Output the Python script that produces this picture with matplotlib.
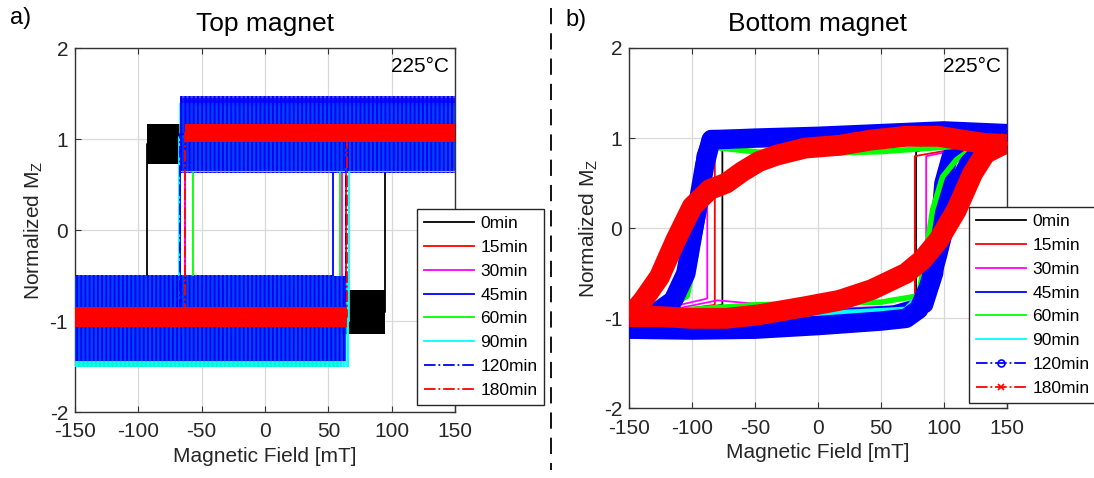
import numpy as np
import matplotlib.pyplot as plt
from matplotlib.lines import Line2D

plt.rcParams['font.family'] = ['Liberation Sans', 'DejaVu Sans']
plt.rcParams['axes.unicode_minus'] = False
plt.rcParams['hatch.linewidth'] = 1.4

labels = ['0min', '15min', '30min', '45min', '60min', '90min', '120min', '180min']
colors = ['black', 'red', 'magenta', 'blue', 'lime', 'cyan', 'blue', 'red']
linestyles = ['-', '-', '-', '-', '-', '-', '-.', '-.']

field_min, field_max = -150, 150

# top magnet: square loops (switching fields, plateau levels, noise half-width)
top_hc_neg = [-93, -63, -63, -67, -57, -68, -67, -63]
top_hc_pos = [95, 64, 61, 54, 59, 66, 64, 65]
top_up = [0.95, 1.03, 1.05, 1.05, 1.0, 1.02, 1.05, 1.07]
top_dn = [-0.9, -0.97, -1.0, -0.97, -1.0, -1.0, -0.97, -0.96]
top_up_spread = [0.22, 0.12, 0.38, 0.42, 0.36, 0.38, 0.4, 0.1]
top_dn_spread = [0.24, 0.12, 0.5, 0.48, 0.5, 0.5, 0.47, 0.11]

# bottom magnet: descending branch (from +150) and ascending branch (from -150)
bot_desc_field = [
    [150, 60, 0, -60, -76, -76, -100, -150],
    [150, 0, -82, -82, -150],
    [150, 0, -88, -88, -150],
    [150, 50, 0, -85, -90, -95, -102, -110, -120, -150],
    [150, 50, -30, -85, -92, -97, -104, -120, -150],
    [150, 0, -85, -90, -96, -103, -115, -150],
    [150, 100, 50, 0, -50, -85, -90, -95, -100, -105, -115, -130, -150],
    [150, 133, 123, 96, 70, 43, 17, -10, -33, -47, -60, -73, -86, -100, -113, -126, -139, -150],
]
bot_desc_mz = [
    [1.0, 1.02, 1.02, 1.05, 1.05, -0.85, -0.9, -1.0],
    [0.98, 1.0, 1.02, -0.85, -0.98],
    [0.98, 0.98, 0.98, -0.78, -0.98],
    [1.0, 1.02, 1.0, 1.0, 0.8, 0.2, -0.3, -0.7, -0.9, -1.05],
    [0.95, 0.85, 0.82, 0.9, 0.3, -0.3, -0.75, -0.9, -0.95],
    [0.97, 0.98, 0.98, 0.75, 0.15, -0.35, -0.8, -1.0],
    [1.05, 1.08, 1.05, 1.02, 1.0, 0.98, 0.7, 0.3, -0.1, -0.5, -0.8, -0.95, -1.1],
    [0.93, 0.94, 0.96, 1.02, 1.02, 0.98, 0.92, 0.89, 0.81, 0.74, 0.63, 0.5, 0.43, 0.24, -0.13, -0.54, -0.8, -0.98],
]
bot_asc_field = [
    [-150, -50, 0, 50, 78, 78, 100, 150],
    [-150, 0, 77, 77, 150],
    [-150, -80, 0, 86, 86, 150],
    [-150, 0, 60, 85, 93, 96, 99, 105, 120, 150],
    [-150, -50, 0, 50, 80, 86, 91, 99, 110, 120, 150],
    [-150, 0, 70, 90, 98, 104, 110, 125, 150],
    [-150, -100, -50, 0, 50, 70, 80, 88, 95, 102, 110, 120, 133, 150],
    [-150, -126, -100, -73, -47, -10, 17, 43, 70, 83, 96, 110, 123, 133, 150],
]
bot_asc_mz = [
    [-1.0, -0.92, -0.9, -0.9, -0.88, 0.85, 0.95, 1.0],
    [-1.0, -0.92, -0.88, 0.8, 0.98],
    [-1.0, -0.8, -0.9, -0.85, 0.8, 0.98],
    [-1.05, -1.0, -0.95, -0.85, -0.5, 0.0, 0.5, 0.8, 0.9, 1.0],
    [-0.95, -0.85, -0.83, -0.82, -0.75, -0.25, 0.2, 0.57, 0.76, 0.86, 0.95],
    [-1.0, -0.95, -0.9, -0.6, -0.1, 0.3, 0.6, 0.85, 0.95],
    [-1.12, -1.13, -1.12, -1.08, -1.03, -1.0, -0.9, -0.65, -0.3, 0.1, 0.45, 0.72, 0.9, 1.0],
    [-0.98, -0.98, -1.0, -1.0, -0.96, -0.87, -0.8, -0.68, -0.5, -0.35, -0.13, 0.2, 0.61, 0.83, 0.95],
]
bot_band_lw = [0, 0, 0, 12, 4, 4, 14, 15]
bot_markers = [None, None, None, None, None, None, 'o', 'x']
top_hatch = [None, None, '||||', '||||', '||||', '||||', '||||', None]

fig = plt.figure(figsize=(10.94, 4.78), dpi=100)
ax1 = fig.add_axes([0.0686, 0.138, 0.3473, 0.7615])
ax2 = fig.add_axes([0.5752, 0.1454, 0.345, 0.7542])


def style_axes(ax, title):
    ax.set_xlim(field_min, field_max)
    ax.set_ylim(-2, 2)
    ax.set_xticks(np.arange(-150, 151, 50))
    ax.set_yticks([-2, -1, 0, 1, 2])
    ax.grid(True, color='#d9d9d9', lw=0.9)
    ax.set_axisbelow(True)
    ax.tick_params(direction='in', top=True, right=True, labelsize=15,
                   length=4, width=0.8, color='0.2', labelcolor='0.15')
    ax.tick_params(axis='x', pad=7.5)
    ax.tick_params(axis='y', pad=5)
    for sp in ax.spines.values():
        sp.set_linewidth(1.0)
        sp.set_color('0.2')
    ax.set_title(title, fontsize=19, pad=12)
    ax.set_xlabel('Magnetic Field [mT]', fontsize=15, color='0.15', labelpad=4)
    ax.set_ylabel(r'Normalized M$_\mathregular{Z}$', fontsize=15, color='0.15', labelpad=3)
    ax.text(0.985, 0.975, '225°C', transform=ax.transAxes, ha='right', va='top', fontsize=15)


def band(ax, xs, lo, hi, c, hatch, z):
    if hatch is None:
        ax.fill_between(xs, lo, hi, color=c, lw=0, zorder=z)
    else:
        ax.fill_between(xs, lo, hi, facecolor=(c, 0.7), edgecolor=c, hatch=hatch, lw=0, zorder=z)


for i in range(len(labels)):
    c = colors[i]
    z = 2 + i
    band(ax1, [top_hc_neg[i], field_max], top_up[i] - top_up_spread[i],
         top_up[i] + top_up_spread[i], c, top_hatch[i], z)
    band(ax1, [field_min, top_hc_pos[i]], top_dn[i] - top_dn_spread[i],
         top_dn[i] + top_dn_spread[i], c, top_hatch[i], z)
    ax1.plot([field_max, top_hc_neg[i], top_hc_neg[i], field_min],
             [top_up[i], top_up[i], top_dn[i], top_dn[i]],
             color=c, ls=linestyles[i], lw=1.3, zorder=z + 0.5, label=labels[i])
    ax1.plot([field_min, top_hc_pos[i], top_hc_pos[i], field_max],
             [top_dn[i], top_dn[i], top_up[i], top_up[i]],
             color=c, ls=linestyles[i], lw=1.3, zorder=z + 0.5)

for i in range(len(labels)):
    c = colors[i]
    z = 2 + i
    for xs, ys in [(bot_desc_field[i], bot_desc_mz[i]), (bot_asc_field[i], bot_asc_mz[i])]:
        if bot_band_lw[i] > 0:
            ax2.plot(xs, ys, color=c, lw=bot_band_lw[i], solid_joinstyle='round',
                     solid_capstyle='butt', zorder=z)
    ax2.plot(bot_desc_field[i], bot_desc_mz[i], color=c, ls=linestyles[i], lw=1.3,
             marker=bot_markers[i], ms=5, mfc='none', mew=1.2, zorder=z + 0.5, label=labels[i])
    ax2.plot(bot_asc_field[i], bot_asc_mz[i], color=c, ls=linestyles[i], lw=1.3,
             marker=bot_markers[i], ms=5, mfc='none', mew=1.2, zorder=z + 0.5)

style_axes(ax1, 'Top magnet')
style_axes(ax2, 'Bottom magnet')

for ax, anchor in [(ax1, (0.3812, 0.5628)), (ax2, (0.8857, 0.5669))]:
    leg = ax.legend(loc='upper left', bbox_to_anchor=anchor, bbox_transform=fig.transFigure,
                    fontsize=12.5, frameon=True, fancybox=False, framealpha=1,
                    edgecolor='0.15', handlelength=2.9, handletextpad=0.35,
                    labelspacing=0.5, borderpad=0.4, borderaxespad=0)
    leg.get_frame().set_linewidth(1.0)
    leg.set_zorder(20)

fig.text(0.009, 0.962, 'a)', fontsize=17, va='center')
fig.text(0.517, 0.958, 'b)', fontsize=17, va='center')
fig.add_artist(Line2D([0.5037, 0.5037], [1 - 8 / 478, 1 - 470 / 478], transform=fig.transFigure,
                      color='black', lw=1.3, ls=(0, (9, 5))))

fig.savefig('out.png', dpi=100)
